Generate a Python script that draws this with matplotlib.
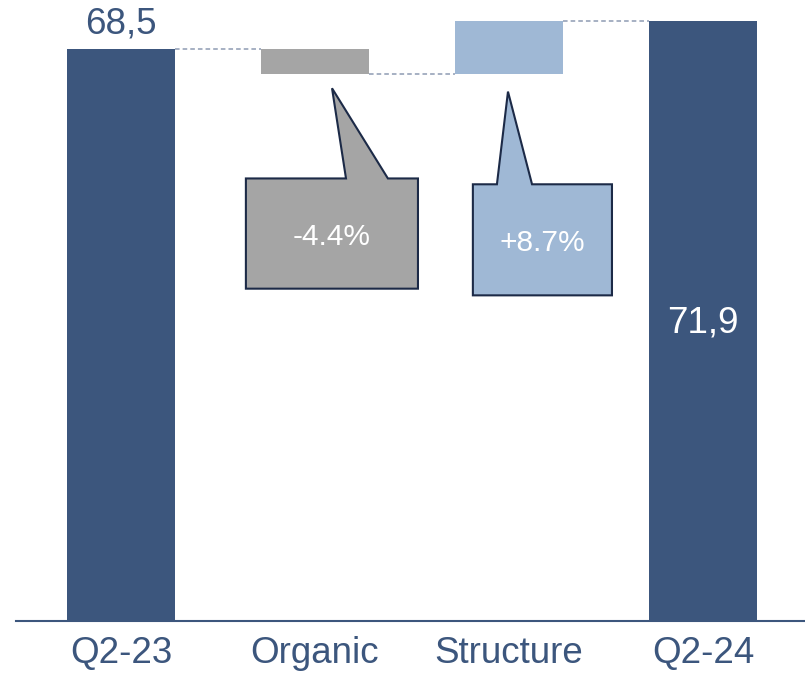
import matplotlib.pyplot as plt
from matplotlib.patches import Polygon

# waterfall values
categories = ["Q2-23", "Organic", "Structure", "Q2-24"]
start_value = 68.5
steps = [-3.0, 6.4]
end_value = 71.9
value_labels = ["68,5", "71,9"]
change_labels = ["-4.4%", "+8.7%"]

NAVY = "#3C567D"
GREY = "#A5A5A5"
LIGHT = "#9FB8D5"
EDGE = "#1C2A47"
DASH = "#8E9BB3"
FONT = "Liberation Sans"

fig = plt.figure(figsize=(8.05, 6.75), dpi=100)
ax = fig.add_axes([16 / 805, 54 / 675, 789 / 805, 621 / 675])

width = 0.557
x = list(range(len(categories)))

# bottoms / heights of each bar
level = start_value
bottoms = [0]
heights = [start_value]
for s in steps:
    bottoms.append(min(level, level + s))
    heights.append(abs(s))
    level += s
bottoms.append(0)
heights.append(end_value)
colors = [NAVY, GREY, LIGHT, NAVY]

ax.bar(x, heights, bottom=bottoms, width=width, color=colors, zorder=2)

# dashed connectors between bars
tops = [start_value, start_value + steps[0], start_value + steps[0] + steps[1]]
for i, t in enumerate(tops):
    ax.plot([x[i] + width / 2, x[i + 1] - width / 2], [t, t],
            ls=(0, (3, 2)), color=DASH, lw=1.1, zorder=1)

# value labels
ax.text(x[0], start_value + 1.9, value_labels[0], ha="center", va="baseline",
        fontsize=26.5, color=NAVY, family=FONT)
ax.text(x[3], 34.5, value_labels[1], ha="center", va="baseline",
        fontsize=26.5, color="white", family=FONT)

# callouts: box (x0, x1, y0, y1), tail base x pair, tip point
callouts = [
    dict(box=(0.644, 1.531, 39.8, 53.0), base=(1.160, 1.376), tip=(1.088, 63.8),
         color=GREY, text=change_labels[0], txt=(1.088, 45.0)),
    dict(box=(1.814, 2.531, 39.0, 52.3), base=(1.938, 2.119), tip=(1.995, 63.4),
         color=LIGHT, text=change_labels[1], txt=(2.170, 44.3)),
]
for c in callouts:
    x0, x1, y0, y1 = c["box"]
    b0, b1 = c["base"]
    pts = [(x0, y0), (x1, y0), (x1, y1), (b1, y1), c["tip"], (b0, y1), (x0, y1)]
    ax.add_patch(Polygon(pts, closed=True, facecolor=c["color"], edgecolor=EDGE,
                         lw=1.5, zorder=3))
    ax.text(*c["txt"], c["text"], ha="center", va="baseline", fontsize=21.5,
            color="white", family=FONT, zorder=4)

ax.set_xlim(-0.541, 3.526)
ax.set_ylim(0, 621 / 8.35)
ax.set_xticks(x)
ax.set_xticklabels(categories, fontsize=26.5, color=NAVY, family=FONT)
ax.tick_params(axis="x", length=0, pad=11)
ax.set_yticks([])
for side in ["top", "right", "left"]:
    ax.spines[side].set_visible(False)
ax.spines["bottom"].set_color(NAVY)
ax.spines["bottom"].set_linewidth(1.5)

fig.savefig("out.png", dpi=100)
